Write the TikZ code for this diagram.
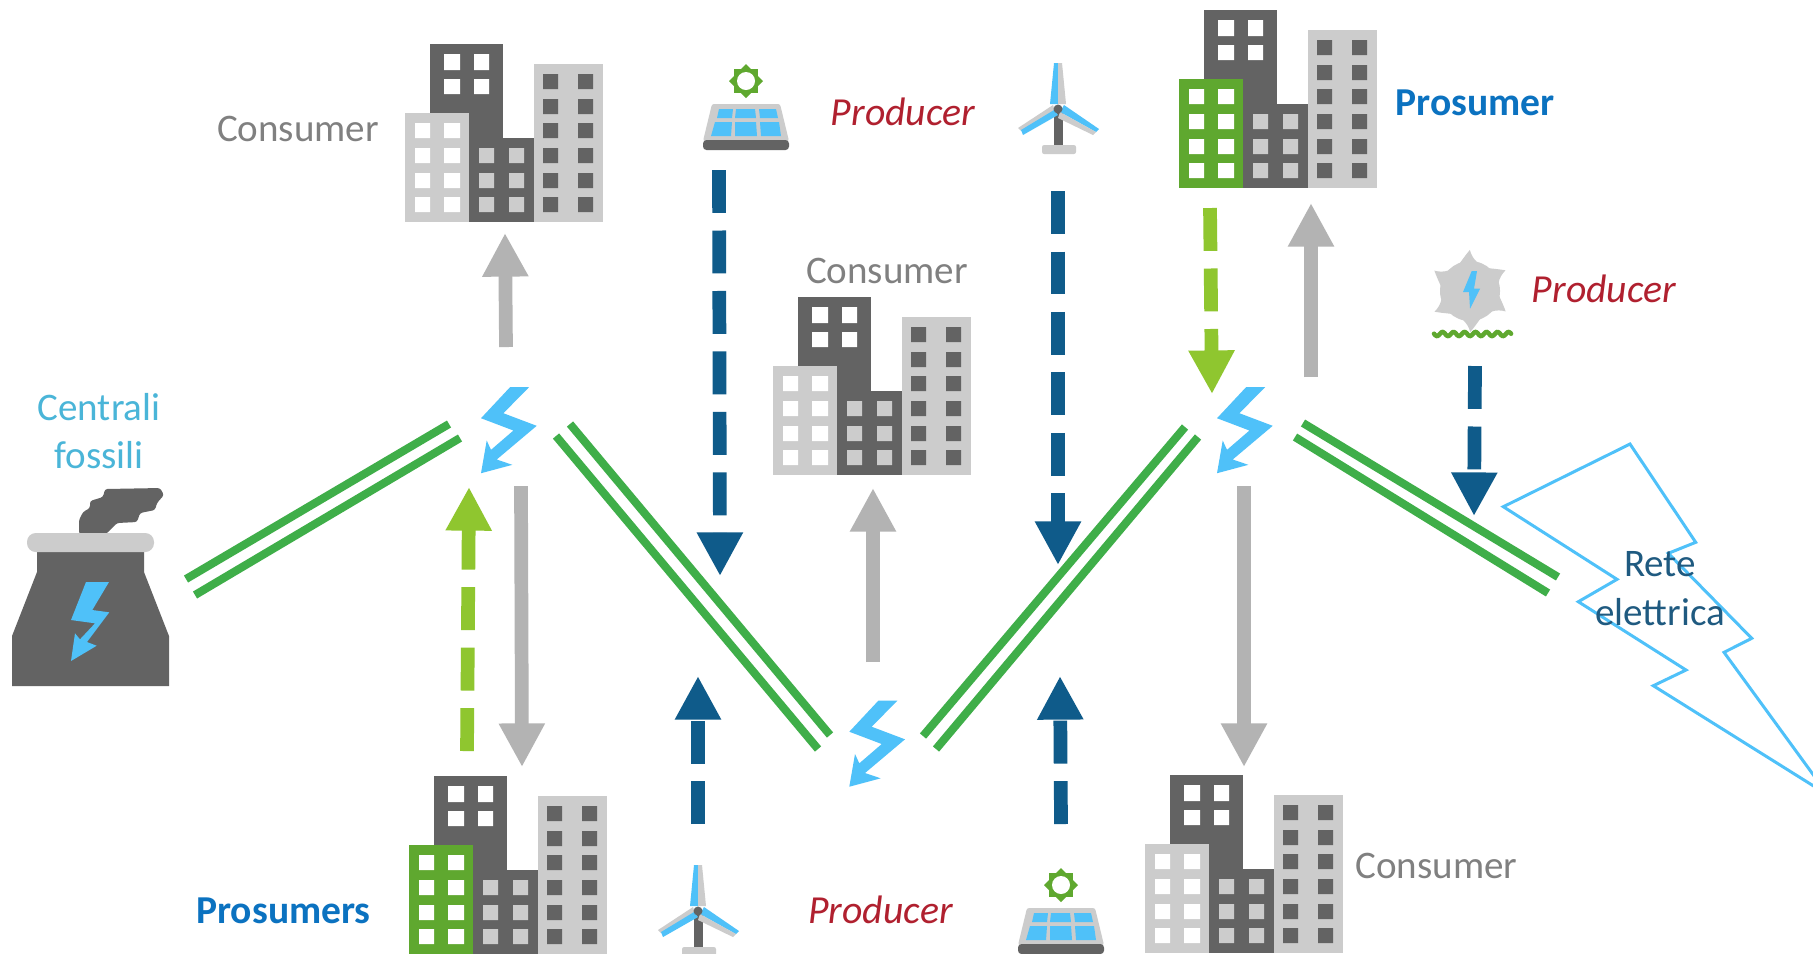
\documentclass[tikz,border=0pt]{standalone}
\usepackage{fontspec}
\setmainfont{Carlito}
\usetikzlibrary{arrows.meta}
\definecolor{bolt}{HTML}{4FC1F9}
\definecolor{dk}{HTML}{636363}
\definecolor{lt}{HTML}{CCCCCC}
\definecolor{bgreen}{HTML}{5FA82F}
\definecolor{pline}{HTML}{3FAE49}
\definecolor{agray}{HTML}{B3B3B3}
\definecolor{ablue}{HTML}{0F5B8A}
\definecolor{agreen}{HTML}{8FC62F}
\definecolor{tgray}{HTML}{808080}
\definecolor{tred}{HTML}{B0202F}
\definecolor{tblue}{HTML}{0B72C0}
\definecolor{tcyan}{HTML}{4AB5D8}
\definecolor{tnavy}{HTML}{1F5A80}
\tikzset{
  lbl/.style={anchor=base,font=\fontsize{11.1pt}{13pt}\selectfont,inner sep=0pt},
  consumerlbl/.style={lbl,text=tgray},
  producerlbl/.style={lbl,text=tred,font=\fontsize{11.3pt}{13pt}\selectfont\itshape},
  prosumerlbl/.style={lbl,text=tblue,font=\fontsize{11.25pt}{13pt}\selectfont\bfseries},
  blockarrow/.style={line width=3.9pt,-{Triangle[length=12.4pt,width=12.3pt]}},
  grayarrow/.style={blockarrow,draw=agray},
  bluearrow/.style={blockarrow,draw=ablue},
  greenarrow/.style={blockarrow,draw=agreen},
  dashflow/.style={dash pattern=on 12.2pt off 5pt},
  powerline/.style={draw=pline,line width=2.3pt},
  pics/buildings/.style={code={
    \fill[dk] (25,-178) rectangle (98,0);
    \fill[dk] (98,-84) rectangle (129,0);
    \fill[#1] (0,-109) rectangle (64,0);
    \fill[lt] (129,-158) rectangle (198,0);
    \fill[white] (39,-168) rectangle (55,-152) (69,-168) rectangle (84,-152)
                 (39,-143) rectangle (55,-128) (69,-143) rectangle (84,-128);
    \foreach \yy in {-99,-74,-49,-25}{
      \fill[white] (10,\yy) rectangle (25,\yy+15) (39,\yy) rectangle (55,\yy+15);}
    \foreach \yy in {-74,-49,-25}{
      \fill[lt] (74,\yy) rectangle (89,\yy+15) (104,\yy) rectangle (119,\yy+15);}
    \foreach \yy in {-148,-123,-99,-74,-49,-25}{
      \fill[dk] (138,\yy) rectangle (153,\yy+15) (173,\yy) rectangle (188,\yy+15);}
  }},
  pics/boltmark/.style={code={
    \fill[bolt] (0.3,-42.3)--(19.3,-42.3)--(-6.3,-16.3)--(27,-3.7)--(-13,30)--(2.7,35.3)--(-28.7,43.7)--(-23,11)--(-18.7,20.3)--(3.7,1)--(-28.7,-11.3)--cycle;
  }},
  pics/solar/.style={code={
    \fill[bgreen] (0,-17)--(17,0)--(0,17)--(-17,0)--cycle;
    \fill[bgreen] (-12,-12) rectangle (12,12);
    \fill[white] (0,0) circle (9);
    \fill[lt,rounded corners=0.6pt] (-34,23)--(34,23)--(43,60)--(-43,60)--cycle;
    \fill[dk,rounded corners=1pt] (-43,59) rectangle (43,69);
    \fill[bolt] (-27,28)--(-13,28)--(-14,37)--(-29,37)--cycle
                (-10,28)--(9,28)--(10,37)--(-11,37)--cycle
                (13,28)--(30,28)--(32,37)--(14,37)--cycle
                (-31,41)--(-14,41)--(-15,55)--(-35,55)--cycle
                (-11,41)--(10,41)--(11,55)--(-11,55)--cycle
                (14,41)--(33,41)--(35,55)--(15,55)--cycle;
  }},
  pics/turbine/.style={code={
    \fill[lt,rounded corners=0.6pt] (-16,36) rectangle (18,45);
    \fill[dk] (-4,4) rectangle (5,36);
    \fill[bolt] (-8,-5)--(-4,-46)--(0,-46)--(0,-5)--cycle;
    \fill[lt] (0,-46)--(4,-46)--(8,-5)--(0,-5)--cycle;
    \fill[bolt] (6,-4)--(41,20)--(38,23)--(2,3)--cycle;
    \fill[lt] (2,3)--(38,23)--(35,26)--(0,9)--cycle;
    \fill[lt] (-5,-4)--(-40,19)--(-37,22)--(-3,2)--cycle;
    \fill[bolt] (-37,21)--(-35,26)--(0,6)--(-4,1)--cycle;
    \fill[dk] (0,0) circle (4.5);
  }},
  pics/hydro/.style={code={
    \foreach \aa in {3,63,123,183,243,303}{
      \fill[lt,rotate=\aa] (-9,-28) .. controls (-5,-33) and (-1,-38) .. (2,-41) .. controls (3,-36) and (5,-32) .. (9,-28) -- cycle;}
    \fill[lt] (0,0) circle (30);
    \fill[bolt] (1.7,-20)--(-7,1)--(-1,1)--(0,17.7)--(10,-2.3)--(4,-2.3)--(7,-20)--cycle;
    \draw[bgreen,line width=1.3pt,line cap=round] plot[domain=-36:41,samples=90,smooth] (\x,{43+2*cos(\x*360/11)});
  }},
  pics/plant/.style={code={
    \fill[dk,rounded corners=0.7pt] (79,534)--(79,520)--(83,512)--(90,508)--(90,501)--(103,497)--(105,489)--(160,488)--(164,495)--(157,503)--(155,510)--(140,513)--(137,522)--(117,523)--(106,534)--cycle;
    \fill[dk] (37,548)--(144,548)--(144,572)--(169,636)--(169,686)--(12,686)--(12,636)--(37,572)--cycle;
    \fill[lt,rounded corners=2.5pt] (27,533) rectangle (154,552);
    \fill[bolt] (86,582)--(109,582)--(92.3,610)--(109.3,612.3)--(87,642)--(96.7,645.7)--(71,661)--(75,633.3)--(80,639.3)--(95,623.3)--(71,620)--cycle;
  }}
}
\begin{document}
\begin{tikzpicture}[x=0.01cm,y=-0.01cm]
\useasboundingbox (0,0) rectangle (1813,953);
\clip (0,0) rectangle (1813,953);
\fill[white] (0,0) rectangle (1813,953);

% icons
\pic at (405,222) {buildings=lt};
\pic at (773,475) {buildings=lt};
\pic at (1179,188) {buildings=bgreen};
\pic at (409,954) {buildings=bgreen};
\pic at (1145,953) {buildings=lt};
\pic at (746,81) {solar};
\pic at (1061,885) {solar};
\pic at (1058,109) {turbine};
\pic at (698,911) {turbine};
\pic at (1470,291) {hydro};
\pic at (0,0) {plant};
\pic at (509.7,429.5) {boltmark};
\pic at (878,743) {boltmark};
\pic at (1245.7,429.5) {boltmark};

% outlined lightning
\draw[bolt,line width=0.85pt,line join=miter] (1630,444)--(1695.7,542.3)--(1668.3,553.3)--(1751.7,638.3)--(1724,652.3)--(1828,795)--(1653.3,685.7)--(1686,670)--(1578.3,601.7)--(1617,579.3)--(1503.3,506.7)--cycle;

% power lines
\coordinate (p1a) at (186,579); \coordinate (p1b) at (449,424);
\coordinate (p2a) at (195,595); \coordinate (p2b) at (460,438);
\coordinate (p3a) at (570,424); \coordinate (p3b) at (830,735);
\coordinate (p4a) at (556,436); \coordinate (p4b) at (818,749);
\coordinate (p5a) at (923,736); \coordinate (p5b) at (1185,427);
\coordinate (p6a) at (936,749); \coordinate (p6b) at (1198,437);
\coordinate (p7a) at (1303,423); \coordinate (p7b) at (1558,577);
\coordinate (p8a) at (1295,437); \coordinate (p8b) at (1548,593);
\foreach \ln in {1,...,8}{\draw[powerline] (p\ln a) -- (p\ln b);}

% flow arrows
\coordinate (a1s) at (506,347); \coordinate (a1e) at (505,233);
\coordinate (a2s) at (521,486); \coordinate (a2e) at (522,767);
\coordinate (a3s) at (873,662); \coordinate (a3e) at (873,488);
\coordinate (a4s) at (1311,377); \coordinate (a4e) at (1311,203);
\coordinate (a5s) at (1244,486); \coordinate (a5e) at (1244,767);
\draw[grayarrow] (a1s) -- (a1e);
\draw[grayarrow] (a2s) -- (a2e);
\draw[grayarrow] (a3s) -- (a3e);
\draw[grayarrow] (a4s) -- (a4e);
\draw[grayarrow] (a5s) -- (a5e);
\coordinate (b1s) at (719,170); \coordinate (b1e) at (720,576);
\coordinate (b2s) at (698,824); \coordinate (b2e) at (698,676);
\coordinate (b3s) at (1058,191); \coordinate (b3e) at (1058,565);
\coordinate (b4s) at (1061,824); \coordinate (b4e) at (1060,676);
\coordinate (b5s) at (1475,366); \coordinate (b5e) at (1474,516);
\draw[bluearrow,dashflow] (b1s) -- (b1e);
\draw[bluearrow,dashflow] (b2s) -- (b2e);
\draw[bluearrow,dashflow] (b3s) -- (b3e);
\draw[bluearrow,dashflow] (b4s) -- (b4e);
\draw[bluearrow,dashflow] (b5s) -- (b5e);
\coordinate (g1s) at (467,751); \coordinate (g1e) at (469,487);
\coordinate (g2s) at (1210,208); \coordinate (g2e) at (1212,394);
\draw[greenarrow,dashflow] (g1s) -- (g1e);
\draw[greenarrow,dashflow] (g2s) -- (g2e);

% labels
\node[consumerlbl] (c1) at (298,141) {Consumer};
\node[consumerlbl] (c2) at (887,283) {Consumer};
\node[consumerlbl] (c3) at (1436.5,878) {Consumer};
\node[producerlbl] (pr1) at (903,125) {Producer};
\node[producerlbl] (pr2) at (1604,302) {Producer};
\node[producerlbl] (pr3) at (880.5,923) {Producer};
\node[prosumerlbl] (ps1) at (1475,115) {Prosumer};
\node[prosumerlbl] (ps2) at (283.5,923) {Prosumers};
\node[lbl,text=tcyan] (f1) at (99,420.5) {Centrali};
\node[lbl,text=tcyan] (f2) at (99,468.5) {fossili};
\node[lbl,text=tnavy] (r1) at (1660,576) {Rete};
\node[lbl,text=tnavy] (r2) at (1660,625) {elettrica};
\end{tikzpicture}
\end{document}
